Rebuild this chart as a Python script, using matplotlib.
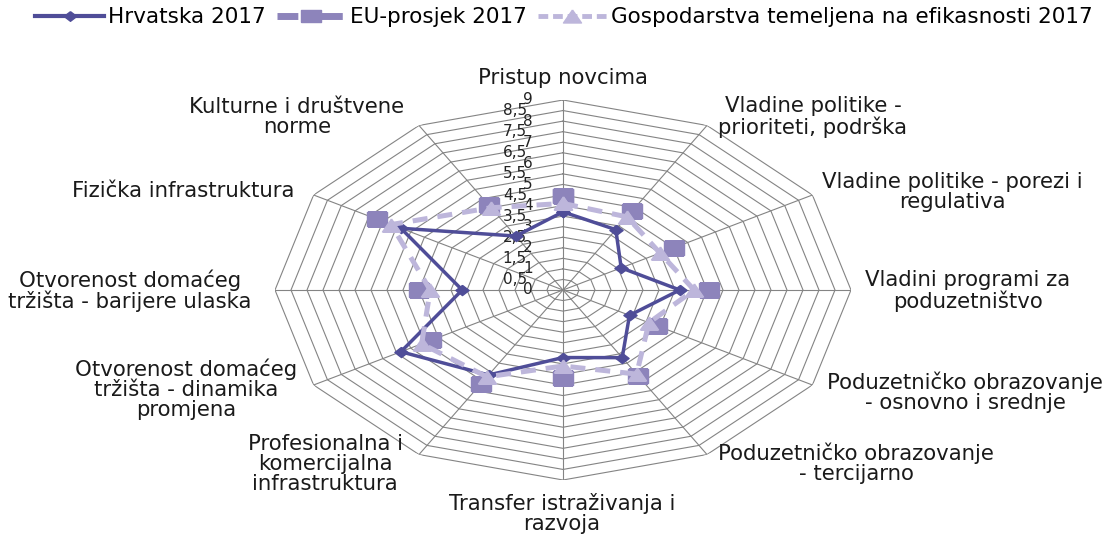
import numpy as np
import matplotlib.pyplot as plt
from matplotlib.lines import Line2D

categories = [
    "Pristup novcima",
    "Vladine politike -\nprioriteti, podrška",
    "Vladine politike - porezi i\nregulativa",
    "Vladini programi za\npoduzetništvo",
    "Poduzetničko obrazovanje\n- osnovno i srednje",
    "Poduzetničko obrazovanje\n- tercijarno",
    "Transfer istraživanja i\nrazvoja",
    "Profesionalna i\nkomercijalna\ninfrastruktura",
    "Otvorenost domaćeg\ntržišta - dinamika\npromjena",
    "Otvorenost domaćeg\ntržišta - barijere ulaska",
    "Fizička infrastruktura",
    "Kulturne i društvene\nnorme",
]
hrvatska = [3.7, 3.3, 2.1, 3.65, 2.4, 3.7, 3.2, 4.65, 5.85, 3.15, 5.85, 2.95]
eu_prosjek = [4.45, 4.3, 4.0, 4.55, 3.4, 4.7, 4.15, 5.15, 4.75, 4.5, 6.7, 4.65]
efikasnost = [4.1, 4.0, 3.5, 4.1, 3.1, 4.6, 3.6, 4.75, 5.1, 4.15, 6.2, 4.5]
series_names = ["Hrvatska 2017", "EU-prosjek 2017",
                "Gospodarstva temeljena na efikasnosti 2017"]
ring_values = np.arange(0, 9.01, 0.5)

# label anchor points in pixels (x, y from top)
label_pos = [(563, 78), (813, 117), (952, 192), (968, 291), (965, 392),
             (856, 463), (562, 514), (325, 464), (186, 389), (130, 291),
             (183, 191), (297, 117)]

c_hr = "#4f4d98"
c_eu = "#8d84bb"
c_ef = "#bdb6db"
grid_c = "#848484"

sq = [(-1, -0.65), (1, -0.65), (1, 0.65), (-1, 0.65), (-1, -0.65)]
dia = [(0, 0.77), (1, 0), (0, -0.77), (-1, 0), (0, 0.77)]
tri = [(0, 0.72), (1, -0.72), (-1, -0.72), (0, 0.72)]

W, H = 1110, 534
fig = plt.figure(figsize=(W / 100, H / 100), dpi=100)
cx, cy, rx, ry = 563, 290, 288, 190
ax = fig.add_axes([(cx - rx) / W, (H - cy - ry) / H, 2 * rx / W, 2 * ry / H],
                  projection="polar")
ax.set_aspect("auto")
ax.set_theta_zero_location("N")
ax.set_theta_direction(-1)
ax.set_ylim(0, 9)
ax.set_xticks([])
ax.set_yticks([])
ax.grid(False)
ax.spines["polar"].set_visible(False)

n = len(categories)
theta = np.arange(n) * 2 * np.pi / n
th_closed = np.append(theta, theta[0])

for r in ring_values[1:]:
    ax.plot(th_closed, [r] * (n + 1), color=grid_c, lw=0.8, zorder=1)
for t in theta:
    ax.plot([t, t], [0, 9], color=grid_c, lw=0.8, zorder=1)

for r in ring_values:
    lbl = f"{r:g}".replace(".", ",")
    off = -22 if r == int(r) else -26
    ax.annotate(lbl, xy=(0, r), xytext=(off, 0), textcoords="offset points",
                ha="right", va="center", fontsize=11, color="#222222")


def closed(v):
    return list(v) + [v[0]]


ax.plot(th_closed, closed(hrvatska), color=c_hr, lw=2.5, marker=dia,
        ms=9.5, zorder=3)
ax.plot(th_closed, closed(eu_prosjek), color=c_eu, lw=0, marker=sq,
        ms=14.5, zorder=4)
ax.plot(th_closed, closed(efikasnost), color=c_ef, lw=3.6, ls=(0, (3, 2)),
        marker=tri, ms=13, zorder=5)

for lbl, (x, y) in zip(categories, label_pos):
    fig.text(x / W, 1 - y / H, lbl, ha="center", va="center",
             multialignment="center", fontsize=15.3, color="#1a1a1a",
             linespacing=1.0)

handles = [
    Line2D([], [], color=c_hr, lw=3, marker=dia, ms=9),
    Line2D([], [], color=c_eu, lw=5, ls=(0, (3, 1.5, 0.4, 1.5)), marker=sq, ms=14),
    Line2D([], [], color=c_ef, lw=3.5, ls=(0, (2, 1)), marker=tri, ms=13),
]
fig.legend(handles, series_names, loc="center", bbox_to_anchor=(0.508, 0.968),
           ncol=3, frameon=False, fontsize=15.5, handlelength=3.2,
           handletextpad=0.2, columnspacing=0.5, borderpad=0)

fig.savefig("out.png", dpi=100)
